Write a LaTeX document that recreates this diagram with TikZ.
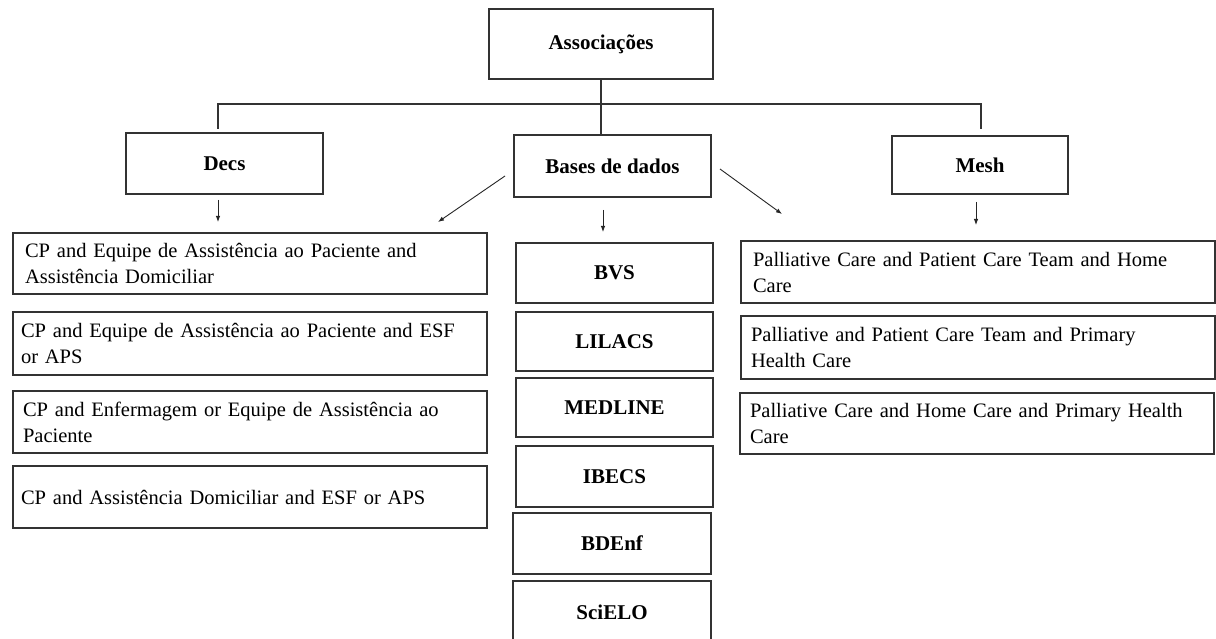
\documentclass[tikz,border=0pt]{standalone}
\usepackage{fontspec}
\setmainfont{Liberation Serif}
\usetikzlibrary{arrows.meta}
\begin{document}
\begin{tikzpicture}[x=1pt,y=-1pt,
  box/.style={draw=black!80, line width=1.6pt, fill=white, inner ysep=0pt},
  title/.style={box, font=\fontsize{21}{25}\selectfont\bfseries, inner xsep=0pt},
  lbox/.style={box, font=\fontsize{20.5}{26}\selectfont, align=left, inner xsep=8pt, text width=458pt, minimum height=#1},
  rbox/.style={box, font=\fontsize{20.5}{26}\selectfont, align=left, inner xsep=10pt, text width=454pt, minimum height=#1},
  conn/.style={draw=black!80, line width=1.6pt},
  arr/.style={draw=black!85, line width=0.9pt, -{Latex[length=6pt,width=4.5pt]}}
]
\useasboundingbox (0,0) rectangle (1216,639);
\clip (0,0) rectangle (1216,639);
\fill[white] (0,0) rectangle (1216,639);

% top level
\node[title, minimum width=224pt, minimum height=70pt] (assoc) at (601,44) {Associações};
\node[title, minimum width=197pt, minimum height=61pt] (decs) at (224.5,163.5) {Decs};
\node[title, minimum width=197pt, minimum height=62pt] (bases) at (612.5,166) {Bases de dados};
\node[title, minimum width=176pt, minimum height=58pt] (mesh) at (980,165) {Mesh};

% tree connectors
\coordinate (jl) at (218,104);
\coordinate (jr) at (981,104);
\coordinate (dt) at (218,129);
\coordinate (mt) at (981,129);
\draw[conn] (assoc.south) -- (assoc.south |- bases.north);
\draw[conn] (dt) -- (jl) -- (jr) -- (mt);

% left column (DeCS)
\node[lbox=61pt] (l1) at (250,263.5) {\hspace*{4pt}CP and Equipe de Assistência ao Paciente and\\\hspace*{4pt}Assistência Domiciliar};
\node[lbox=63pt] (l2) at (250,343.5) {CP and Equipe de Assistência ao Paciente and ESF\\or APS};
\node[lbox=62pt] (l3) at (250,422) {\hspace*{2pt}CP and Enfermagem or Equipe de Assistência ao\\\hspace*{2pt}Paciente};
\node[lbox=62pt] (l4) at (250,497) {CP and Assistência Domiciliar and ESF or APS};

% databases column
\node[title, minimum width=197pt, minimum height=60pt] (bvs) at (614.5,273) {BVS};
\node[title, minimum width=197pt, minimum height=59pt] (lilacs) at (614.5,341.5) {LILACS};
\node[title, minimum width=197pt, minimum height=59pt] (medline) at (614.5,407.5) {MEDLINE};
\node[title, minimum width=197pt, minimum height=61pt] (ibecs) at (614.5,476.5) {IBECS};
\node[title, minimum width=198pt, minimum height=61pt] (bdenf) at (612,543.5) {BDEnf};
\node[title, minimum width=198pt, minimum height=62pt] (scielo) at (612,612) {SciELO};

% right column (MeSH)
\node[rbox=62pt] (r1) at (978,272) {\hspace*{2pt}Palliative Care and Patient Care Team and Home\\\hspace*{2pt}Care};
\node[rbox=63pt] (r2) at (978,347.5) {Palliative and Patient Care Team and Primary\\Health Care};
\node[rbox=61pt] (r3) at (977,423.5) {Palliative Care and Home Care and Primary Health\\Care};

% arrows
\coordinate (a1s) at (218,200);  \coordinate (a1e) at (218,222);
\coordinate (a2s) at (603,210);  \coordinate (a2e) at (603,232);
\coordinate (a3s) at (976,202);  \coordinate (a3e) at (976,225);
\coordinate (a4s) at (505,176);  \coordinate (a4e) at (438,222);
\coordinate (a5s) at (720,169);  \coordinate (a5e) at (782,214);
\draw[arr] (a1s) -- (a1e);
\draw[arr] (a2s) -- (a2e);
\draw[arr] (a3s) -- (a3e);
\draw[arr] (a4s) -- (a4e);
\draw[arr] (a5s) -- (a5e);
\end{tikzpicture}
\end{document}
